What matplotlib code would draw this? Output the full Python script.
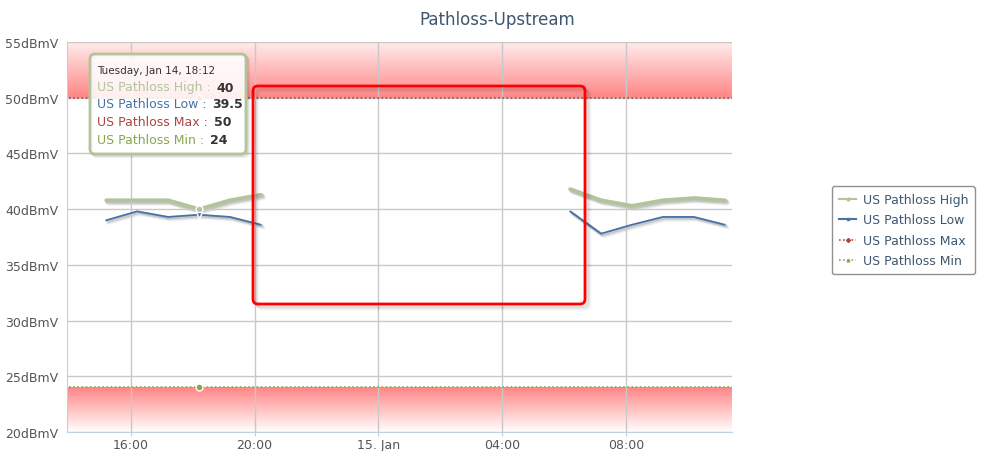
import datetime as dt
import numpy as np
import matplotlib
matplotlib.use("Agg")
import matplotlib.pyplot as plt
import matplotlib.dates as mdates
from matplotlib.colors import LinearSegmentedColormap
from matplotlib.patches import FancyBboxPatch
from matplotlib.lines import Line2D

# ---------------- data ----------------
times_a = ["2014-01-14 15:12", "2014-01-14 16:12", "2014-01-14 17:12",
           "2014-01-14 18:12", "2014-01-14 19:12", "2014-01-14 20:12"]
times_b = ["2014-01-15 06:12", "2014-01-15 07:12", "2014-01-15 08:12",
           "2014-01-15 09:12", "2014-01-15 10:12", "2014-01-15 11:12"]
high_a = [40.8, 40.8, 40.8, 40.0, 40.8, 41.3]
high_b = [41.8, 40.8, 40.3, 40.8, 41.0, 40.8]
low_a = [39.0, 39.8, 39.3, 39.5, 39.3, 38.6]
low_b = [39.8, 37.8, 38.6, 39.3, 39.3, 38.6]
thr_times = ["2014-01-14 13:12", "2014-01-15 12:12"]
max_vals = [50, 50]
min_vals = [24, 24]
y_ticks = [20, 25, 30, 35, 40, 45, 50, 55]
x_range = ["2014-01-14 13:56", "2014-01-15 11:26"]
hover_time = "2014-01-14 18:12"
tooltip_title = "Tuesday, Jan 14, 18:12"
tooltip_rows = [("US Pathloss High", "40"), ("US Pathloss Low", "39.5"),
                ("US Pathloss Max", "50"), ("US Pathloss Min", "24")]
series_names = ["US Pathloss High", "US Pathloss Low", "US Pathloss Max", "US Pathloss Min"]
colors = ["#b3c49b", "#4572A7", "#AA4643", "#89A54E"]

def T(s):
    return dt.datetime.strptime(s, "%Y-%m-%d %H:%M")

ta = [T(s) for s in times_a]
tb = [T(s) for s in times_b]
tt = [T(s) for s in thr_times]
x0, x1 = T(x_range[0]), T(x_range[1])

W, H = 1003, 452
fig = plt.figure(figsize=(W / 100, H / 100), dpi=100)
ax = fig.add_axes([67 / W, (H - 433) / H, 665 / W, 390 / H])
ax.set_xlim(x0, x1)
ax.set_ylim(20, 55)

# gradient bands
top_cmap = LinearSegmentedColormap.from_list("t", ["#ff8585", "#ffecec"])
bot_cmap = LinearSegmentedColormap.from_list("b", ["#ff8585", "#ffffff"])
grad = np.linspace(0, 1, 256).reshape(-1, 1)
xn0, xn1 = mdates.date2num(x0), mdates.date2num(x1)
ax.imshow(grad, cmap=top_cmap, extent=(xn0, xn1, 50, 55), origin="lower",
          aspect="auto", zorder=0.5)
ax.imshow(grad, cmap=bot_cmap, extent=(xn0, xn1, 24, 20), origin="lower",
          aspect="auto", zorder=0.5)
ax.set_xlim(x0, x1)
ax.set_ylim(20, 55)

# grid
ax.set_yticks(y_ticks)
ax.xaxis.set_major_locator(mdates.HourLocator(byhour=[0, 4, 8, 12, 16, 20]))
def fmt(x, pos=None):
    d = mdates.num2date(x)
    if d.hour == 0 and d.minute == 0:
        return d.strftime("%-d. %b")
    return d.strftime("%H:%M")
ax.xaxis.set_major_formatter(plt.FuncFormatter(fmt))
ax.yaxis.set_major_formatter(plt.FuncFormatter(lambda v, p: f"{int(v)}dBmV"))
ax.grid(True, color="#c8c8c8", lw=1, zorder=1)
ax.set_axisbelow(False)
for s in ["top", "right"]:
    ax.spines[s].set_visible(False)
for s in ["left", "bottom"]:
    ax.spines[s].set_color("#C0D0E0")
ax.tick_params(axis="y", length=0, labelsize=9, labelcolor="#555555", pad=6)
ax.tick_params(axis="x", length=3, color="#C0D0E0", labelsize=9,
               labelcolor="#555555", pad=1)

# shadows + series
def shadow_plot(x, y, color, lw, **kw):
    for off, a in [(3, 0.05), (2, 0.08), (1, 0.12)]:
        tr = ax.transData + matplotlib.transforms.ScaledTranslation(off / 100, -off / 100, fig.dpi_scale_trans)
        ax.plot(x, y, color="black", lw=lw + 1, alpha=a, transform=tr, zorder=2,
                solid_capstyle="round", **kw)
    ax.plot(x, y, color=color, lw=lw, zorder=3, solid_capstyle="round", **kw)

shadow_plot(ta, high_a, colors[0], 2.6)
shadow_plot(tb, high_b, colors[0], 2.6)
shadow_plot(ta, low_a, colors[1], 1.3)
shadow_plot(tb, low_b, colors[1], 1.3)
ax.plot(tt, max_vals, color=colors[2], lw=1.2, ls=(0, (1, 1.5)), zorder=3)
ax.plot(tt, min_vals, color=colors[3], lw=1.2, ls=(0, (1, 1.5)), zorder=3)

# hover markers
ht = T(hover_time)
ax.plot([ht], [high_a[3]], marker="o", ms=5, color=colors[0], mec="white", mew=1, zorder=5)
ax.plot([ht], [low_a[3]], marker="v", ms=5, color=colors[1], mec="white", mew=1, zorder=5)
ax.plot([ht], [max_vals[0]], marker="D", ms=4, color=colors[2], mec="white", mew=1, zorder=5)
ax.plot([ht], [min_vals[0]], marker="o", ms=5, color=colors[3], mec="white", mew=1, zorder=5)

# title
fig.text(497 / W, 1 - 20 / H, "Pathloss-Upstream", ha="center", va="center",
         fontsize=12, color="#3E576F")

# red rounded rectangle with shadow
def rbox(x, y, w, h, **kw):
    return FancyBboxPatch((x / 100, (H - y - h) / 100), w / 100, h / 100,
                          boxstyle="round,pad=0,rounding_size=0.05",
                          transform=fig.dpi_scale_trans, **kw)
for off, a in [(5, 0.03), (4, 0.04), (3, 0.05), (2, 0.06)]:
    fig.add_artist(rbox(253 + off, 87 + off, 332, 218, fill=False,
                        ec="black", lw=2, alpha=a, zorder=9))
fig.add_artist(rbox(253, 87, 332, 218, fill=False, ec="#ff0000", lw=2, zorder=10))

# tooltip
for off, a in [(3, 0.04), (2, 0.06), (1, 0.08)]:
    fig.add_artist(rbox(90 + off, 55 + off, 156, 100, fill=False, ec="black",
                        lw=2, alpha=a, zorder=11))
fig.add_artist(rbox(90, 55, 156, 100, fc=(1, 1, 1, 0.88), ec="#b3c49b", lw=2, zorder=12))
fig.text(97 / W, 1 - 71 / H, tooltip_title, fontsize=7.5, color="#333333",
         va="center", ha="left", zorder=13)
fig.canvas.draw()
rend = fig.canvas.get_renderer()
row_y = [88, 105, 123, 140]
for (name, val), c, yy in zip(tooltip_rows, colors, row_y):
    t = fig.text(97 / W, 1 - yy / H, name + " : ", fontsize=9, color=c,
                 va="center", ha="left", zorder=13)
    bb = t.get_window_extent(rend)
    fig.text((bb.x1 + 2) / W, 1 - yy / H, val, fontsize=9, color="#333333",
             fontweight="bold", va="center", ha="left", zorder=13)

# legend
handles = [
    Line2D([], [], color=colors[0], lw=1.5, marker="o", ms=2),
    Line2D([], [], color=colors[1], lw=1.5, marker="s", ms=2),
    Line2D([], [], color=colors[2], lw=1.2, ls=(0, (1, 1.5)), marker="D", ms=2),
    Line2D([], [], color=colors[3], lw=1.2, ls=(0, (1, 1.5)), marker="^", ms=2),
]
leg = fig.legend(handles, series_names, loc="upper left",
                 bbox_to_anchor=(832 / W, 1 - 187 / H), fontsize=9,
                 frameon=True, fancybox=True, edgecolor="#909090",
                 framealpha=1, handlelength=1.4, handletextpad=0.5,
                 labelspacing=0.6, borderpad=0.55, borderaxespad=0,
                 labelcolor="#3E576F")
leg.get_frame().set_linewidth(1)

fig.savefig("out.png", dpi=100)
